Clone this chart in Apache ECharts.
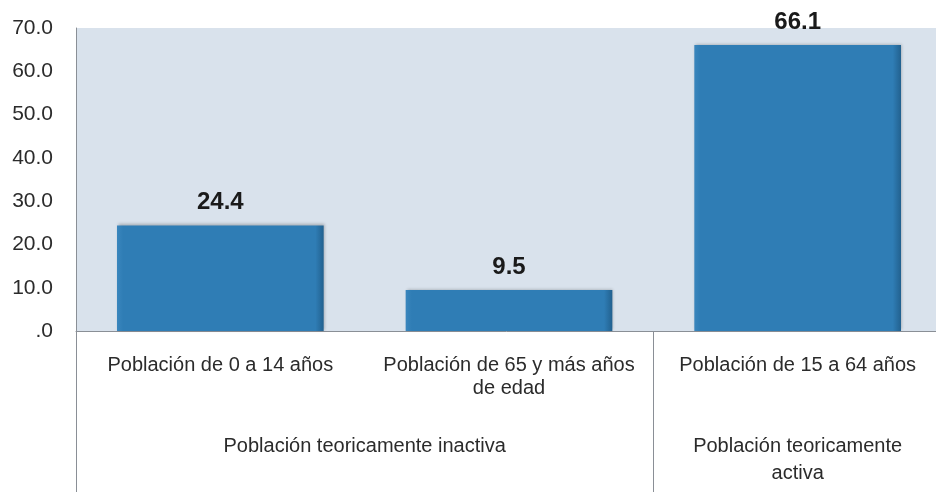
<!DOCTYPE html>
<html>
<head>
<meta charset="utf-8">
<script src="https://cdn.jsdelivr.net/npm/echarts@6/dist/echarts.min.js"></script>
<style>
  html, body { margin: 0; padding: 0; background: #ffffff; }
  #chart { width: 936px; height: 492px; }
</style>
</head>
<body>
<div id="chart"></div>
<script>
// datos del gráfico
const categorias = ['Población de 0 a 14 años', 'Población de 65 y más años\nde edad', 'Población de 15 a 64 años'];
const valores = [24.4, 9.5, 66.1];
// grupos: etiquetas colocadas en medias posiciones de categoría (0, 0.5, 1, ... 3)
const grupos = ['', '', 'Población teoricamente inactiva', '', '', 'Población teoricamente\nactiva', ''];
const separadores = [0, 4, 6];
const yMin = 0;
const yMax = 70;
const yPaso = 10;

const chart = echarts.init(document.getElementById('chart'));

const option = {
  backgroundColor: '#ffffff',
  textStyle: { fontFamily: 'Liberation Sans, Arial, sans-serif' },
  grid: {
    left: 76,
    right: -6,
    top: 28,
    bottom: 161,
    outerBoundsMode: 'none',
    containLabel: false,
    show: true,
    backgroundColor: '#d9e2ec',
    borderWidth: 0
  },
  xAxis: [
    {
      type: 'category',
      data: categorias,
      axisLine: { show: true, lineStyle: { color: '#8a8f96', width: 1 } },
      axisTick: { show: false },
      axisLabel: {
        interval: 0,
        margin: 23,
        fontSize: 20,
        color: '#2b2b2b',
        lineHeight: 23
      }
    },
    {
      type: 'category',
      position: 'bottom',
      boundaryGap: false,
      data: grupos,
      axisLine: { show: false },
      axisTick: {
        show: true,
        length: 170,
        interval: (i) => separadores.includes(i),
        lineStyle: { color: '#8a8f96', width: 1 }
      },
      axisLabel: {
        interval: 0,
        margin: 102,
        fontSize: 20,
        color: '#2b2b2b',
        lineHeight: 27
      }
    }
  ],
  yAxis: {
    type: 'value',
    min: yMin,
    max: yMax,
    interval: yPaso,
    axisLine: { show: true, lineStyle: { color: '#8a8f96', width: 1 } },
    axisTick: { show: false },
    splitLine: { show: false },
    axisLabel: {
      margin: 23,
      fontSize: 21,
      color: '#2b2b2b',
      formatter: (v) => (v === 0 ? '.0' : v.toFixed(1))
    }
  },
  series: [
    {
      type: 'bar',
      xAxisIndex: 0,
      data: valores,
      barWidth: '71.6%',
      itemStyle: {
        color: {
          type: 'linear', x: 0, y: 0, x2: 1, y2: 0,
          colorStops: [
            { offset: 0, color: '#3a86bd' },
            { offset: 0.03, color: '#2f7db5' },
            { offset: 0.96, color: '#2f7db5' },
            { offset: 1, color: '#22618f' }
          ]
        },
        borderWidth: 0,
        shadowColor: 'rgba(0,0,0,0.25)',
        shadowBlur: 3,
        shadowOffsetX: 1,
        shadowOffsetY: -1
      },
      label: {
        show: true,
        position: 'top',
        distance: 11,
        fontSize: 24,
        fontWeight: 'bold',
        color: '#1a1a1a',
        formatter: (p) => p.value.toFixed(1)
      }
    }
  ]
};

chart.setOption(option);
</script>
</body>
</html>
